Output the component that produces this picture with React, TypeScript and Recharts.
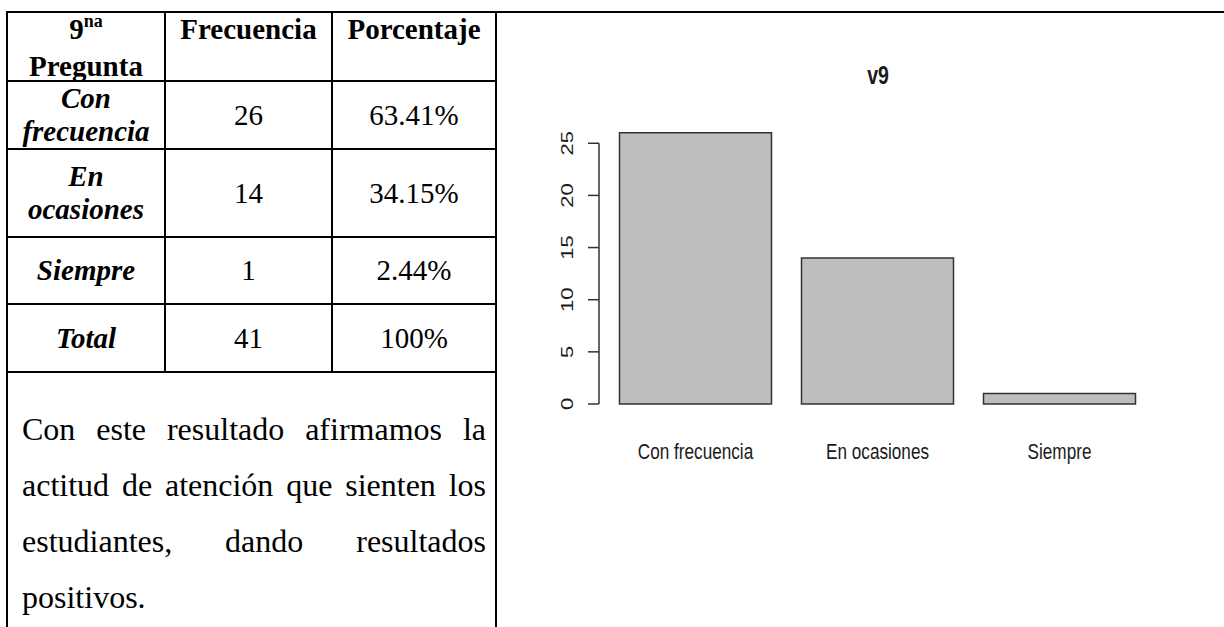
import React from 'react';
import { BarChart, Bar, XAxis, YAxis, ReferenceLine } from 'recharts';

// values
const categories = ['Con frecuencia', 'En ocasiones', 'Siempre'];
const counts = [26, 14, 1];
const percents = ['63.41%', '34.15%', '2.44%'];
const totalLabel = 'Total';
const totalCount = 41;
const totalPercent = '100%';
const headers = ['Frecuencia', 'Porcentaje'];
const yTicks = [0, 5, 10, 15, 20, 25];
const chartTitle = 'v9';
const comment =
  'Con este resultado afirmamos la actitud de atención que sienten los estudiantes, dando resultados positivos.';

const data = categories.map((name, i) => ({ name, value: counts[i] }));

const serif = '"Liberation Serif", "Times New Roman", serif';
const sans = '"Liberation Sans", Arial, sans-serif';
const ink = '#1a1a1a';
// the R image was squeezed horizontally
const squeeze = 0.78;

const cell: React.CSSProperties = {
  background: '#fff',
  display: 'flex',
  flexDirection: 'column',
  alignItems: 'center',
  justifyContent: 'center',
  textAlign: 'center',
  padding: '0 4px',
};
const headCell: React.CSSProperties = { ...cell, justifyContent: 'flex-start', fontWeight: 'bold' };
const labelCell: React.CSSProperties = { ...cell, fontWeight: 'bold', fontStyle: 'italic' };

const YTick = ({ x, y, payload }: any) => (
  <text
    transform={`translate(${x - 15},${y}) scale(${squeeze},1) rotate(-90)`}
    textAnchor="middle"
    fontSize={22}
    fontFamily={sans}
    fill={ink}
  >
    {payload.value}
  </text>
);

const XTick = ({ x, y, payload }: any) => (
  <text
    transform={`translate(${x},${y + 55}) scale(${squeeze},1)`}
    textAnchor="middle"
    fontSize={22}
    fontFamily={sans}
    fill={ink}
  >
    {payload.value}
  </text>
);

const App: React.FC = () => {
  return (
    <div
      style={{
        position: 'absolute',
        left: 0,
        top: 0,
        width: 1224,
        height: 627,
        overflow: 'hidden',
        background: '#fff',
      }}
    >
      {/* table on the left */}
      <div
        style={{
          position: 'absolute',
          left: 6,
          top: 11,
          display: 'grid',
          gridTemplateColumns: '156px 165px 162px',
          gridTemplateRows: '67px 66px 86px 65px 66px 262px',
          gap: 2,
          padding: 2,
          background: '#000',
          fontFamily: serif,
          fontSize: 29,
          lineHeight: '33px',
          color: '#000',
        }}
      >
        <div style={headCell}>
          <div>
            9<span style={{ fontSize: 18, position: 'relative', top: -12 }}>na</span>
          </div>
          <div>Pregunta</div>
        </div>
        {headers.map((h) => (
          <div key={h} style={headCell}>
            {h}
          </div>
        ))}
        {categories.map((c, i) => (
          <React.Fragment key={c}>
            <div style={labelCell}>{c}</div>
            <div style={cell}>{counts[i]}</div>
            <div style={cell}>{percents[i]}</div>
          </React.Fragment>
        ))}
        <div style={labelCell}>{totalLabel}</div>
        <div style={cell}>{totalCount}</div>
        <div style={cell}>{totalPercent}</div>
        <div
          style={{
            gridColumn: '1 / span 3',
            background: '#fff',
            padding: '28px 9px 0 14px',
            fontSize: 32,
            lineHeight: '56px',
            textAlign: 'justify',
          }}
        >
          {comment}
        </div>
      </div>

      {/* top rule over the chart cell */}
      <div style={{ position: 'absolute', left: 497, top: 11, width: 727, height: 2, background: '#000' }} />

      {/* chart title */}
      <div
        style={{
          position: 'absolute',
          left: 777.5,
          top: 63,
          width: 200,
          textAlign: 'center',
          fontFamily: sans,
          fontWeight: 'bold',
          fontSize: 25,
          lineHeight: '25px',
          color: ink,
          transform: `scaleX(${squeeze})`,
        }}
      >
        {chartTitle}
      </div>

      <div style={{ position: 'absolute', left: 498, top: 14 }}>
        <BarChart width={726} height={613} data={data} margin={{ top: 108, right: 68, bottom: 183, left: 0 }}>
          <XAxis
            dataKey="name"
            axisLine={false}
            tickLine={false}
            tickSize={0}
            tickMargin={0}
            height={40}
            interval={0}
            padding={{ left: 5.5, right: 5.5 }}
            tick={<XTick />}
          />
          <XAxis xAxisId="frame" type="number" domain={[0, 1]} hide />
          <YAxis
            width={101}
            domain={[0, Math.max(...counts) * 1.04]}
            ticks={yTicks}
            interval={0}
            axisLine={false}
            tickSize={11}
            tickMargin={0}
            tickLine={{ stroke: '#333', strokeWidth: 1.5 }}
            tick={<YTick />}
          />
          <ReferenceLine
            xAxisId="frame"
            segment={[
              { x: 0, y: yTicks[0] },
              { x: 0, y: yTicks[yTicks.length - 1] },
            ]}
            stroke="#333"
            strokeWidth={1.5}
          />
          <Bar
            dataKey="value"
            fill="#bebebe"
            stroke="#333"
            strokeWidth={1.5}
            barSize={152}
            isAnimationActive={false}
          />
        </BarChart>
      </div>
    </div>
  );
};

export default App;
